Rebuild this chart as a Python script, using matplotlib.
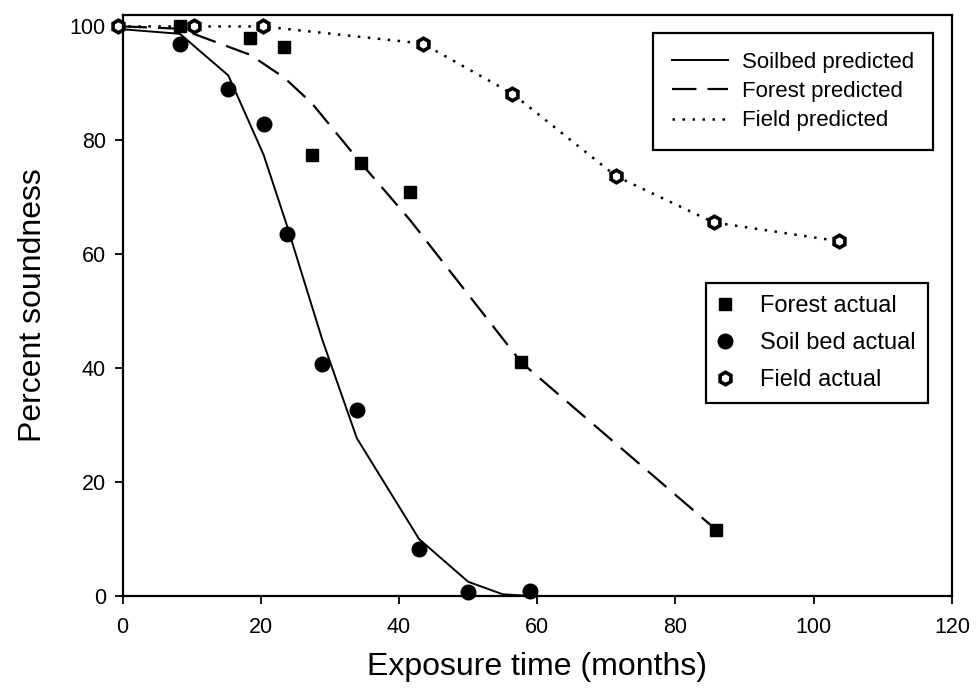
import matplotlib.pyplot as plt

plt.rcParams['font.family'] = ['Liberation Sans', 'DejaVu Sans']

# predicted curves
soil_pred_x = [0, 8.3, 15.3, 20.4, 23.8, 28.9, 33.9, 42.9, 50, 55, 59]
soil_pred_y = [99.5, 98.7, 91.4, 77.5, 65, 45, 27.7, 10, 2.5, 0.3, 0]

forest_pred_x = [0, 8.3, 18.5, 23.4, 27.4, 34.5, 41.6, 57.7, 85.9]
forest_pred_y = [100, 99.6, 95, 91, 86.5, 76, 66, 41, 11.6]

field_pred_x = [-0.6, 10.4, 20.3, 43.4, 56.4, 71.4, 85.5, 103.6]
field_pred_y = [100, 100, 100, 97, 88.2, 73.7, 65.6, 62.3]

# measured values
forest_x = [8.3, 18.5, 23.4, 27.4, 34.5, 41.6, 57.7, 85.9]
forest_y = [100, 98, 96.3, 77.5, 76, 71, 41, 11.6]

soil_x = [8.3, 15.3, 20.4, 23.8, 28.9, 33.9, 42.9, 50, 59]
soil_y = [97, 89, 82.8, 63.6, 40.7, 32.6, 8.2, 0.7, 0.9]

field_x = [-0.6, 10.4, 20.3, 43.4, 56.4, 71.4, 85.5, 103.6]
field_y = [100, 100, 100, 97, 88.2, 73.7, 65.6, 62.3]

fig = plt.figure(figsize=(9.77, 6.96), dpi=100)
ax = fig.add_axes([0.1254, 0.1437, 0.849, 0.8347])

l1, = ax.plot(soil_pred_x, soil_pred_y, color='black', lw=1.4, label='Soilbed predicted')
l2, = ax.plot(forest_pred_x, forest_pred_y, color='black', lw=1.6,
              linestyle=(0, (11, 5)), label='Forest predicted')
l3, = ax.plot(field_pred_x, field_pred_y, color='black', lw=1.8,
              linestyle=(0, (1, 3)), label='Field predicted')

m1, = ax.plot(forest_x, forest_y, 's', color='black', ms=8.5, ls='none',
              clip_on=False, label='Forest actual')
m2, = ax.plot(soil_x, soil_y, 'o', color='black', ms=10.5, ls='none',
              clip_on=False, label='Soil bed actual')
m3, = ax.plot(field_x, field_y, 'h', mfc='white', mec='black', mew=2.6, ms=9,
              ls='none', clip_on=False, label='Field actual')

ax.set_xlim(0, 120)
ax.set_ylim(0, 102)
ax.set_xticks([0, 20, 40, 60, 80, 100, 120])
ax.set_yticks([0, 20, 40, 60, 80, 100])
ax.tick_params(direction='out', length=6, width=1.3, labelsize=15.5,
               top=False, right=False)
ax.tick_params(axis='x', pad=9)
ax.tick_params(axis='y', pad=6)
for s in ax.spines.values():
    s.set_linewidth(1.6)

ax.set_xlabel('Exposure time (months)', fontsize=23, labelpad=10)
ax.set_ylabel('Percent soundness', fontsize=23, labelpad=16)

leg1 = fig.legend(handles=[l1, l2, l3], loc='upper left',
                  bbox_to_anchor=(0.668, 0.953), borderaxespad=0, fontsize=16,
                  handlelength=2.55, handletextpad=0.6, labelspacing=0.38,
                  borderpad=0.85, fancybox=False, edgecolor='black', framealpha=1)
leg1.get_frame().set_linewidth(1.6)

leg2 = fig.legend(handles=[m1, m2, m3], loc='upper left',
                  bbox_to_anchor=(0.7226, 0.5934), borderaxespad=0, fontsize=17,
                  handlelength=0.6, handletextpad=1.2, labelspacing=0.65,
                  borderpad=0.5, fancybox=False, edgecolor='black', framealpha=1)
leg2.get_frame().set_linewidth(1.6)

fig.savefig('out.png', dpi=100)
